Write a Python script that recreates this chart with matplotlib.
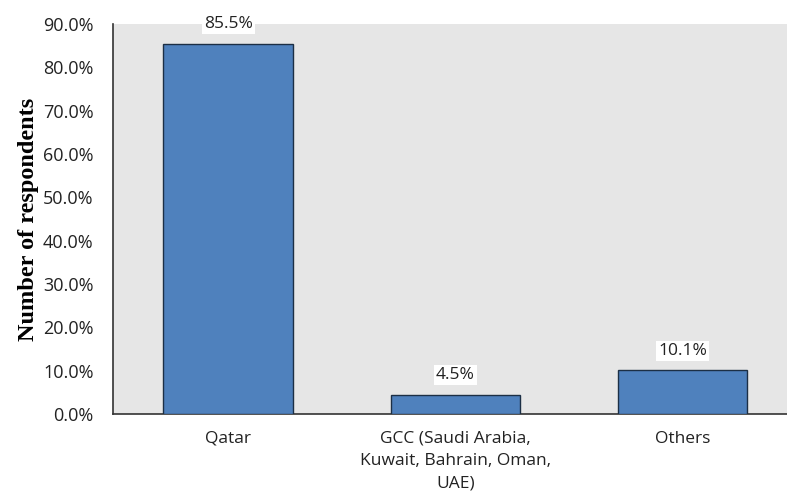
import matplotlib
matplotlib.use("Agg")
import matplotlib.pyplot as plt
from matplotlib.ticker import FuncFormatter

# data
categories = ['Qatar', 'GCC (Saudi Arabia,\nKuwait, Bahrain, Oman,\nUAE)', 'Others']
values = [85.5, 4.5, 10.1]
y_ticks = [0, 10, 20, 30, 40, 50, 60, 70, 80, 90]

plt.rcParams['font.family'] = ['Open Sans', 'DejaVu Sans']

fig = plt.figure(figsize=(7.87, 4.96), dpi=100)
ax = fig.add_axes([113 / 787, 82 / 496, 674 / 787, 390 / 496])
ax.set_facecolor('#e6e6e6')

x = range(len(categories))
bars = ax.bar(x, values, width=0.57, color='#4f81bd', edgecolor='#1c2f45', linewidth=1.0, zorder=3)

# value labels on white boxes
for b, v in zip(bars, values):
    ax.annotate(f'{v:.1f}%', (b.get_x() + b.get_width() / 2, v),
                xytext=(0, 8), textcoords='offset points', ha='center', va='bottom',
                fontsize=12.5, color='#222222',
                bbox=dict(boxstyle='square,pad=0.12', fc='white', ec='none'), zorder=4)

ax.set_xlim(-0.507, 2.46)
ax.set_ylim(0, 90)
ax.set_yticks(y_ticks)
ax.yaxis.set_major_formatter(FuncFormatter(lambda v, p: f'{v:.1f}%'))
ax.set_xticks(list(x))
ax.set_xticklabels(categories, fontsize=12.5, linespacing=1.55, color='#222222')
ax.tick_params(axis='y', labelsize=13, colors='#222222', length=0, pad=14)
ax.tick_params(axis='x', length=0, pad=12)

ax.set_ylabel('Number of respondents', family='Liberation Serif', fontweight='bold',
              fontsize=17.5, labelpad=3)

for s in ['top', 'right']:
    ax.spines[s].set_visible(False)
for s in ['left', 'bottom']:
    ax.spines[s].set_color('#333333')
    ax.spines[s].set_linewidth(1.2)

fig.savefig('out.png', dpi=100)
